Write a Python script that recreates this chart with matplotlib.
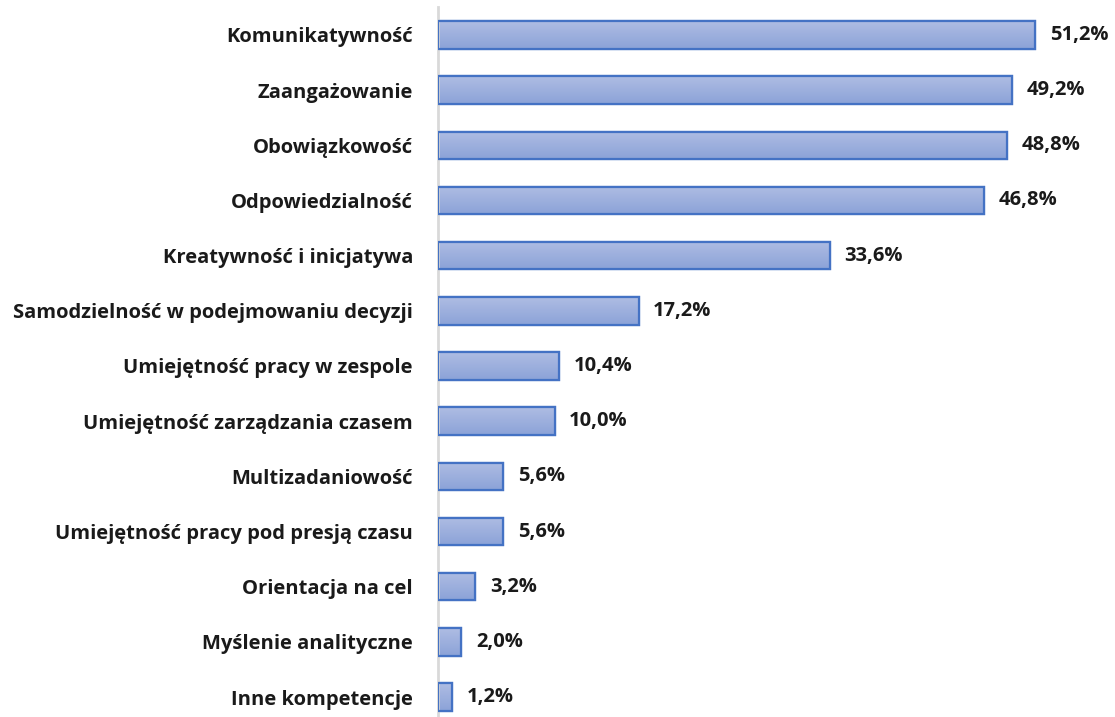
import numpy as np
import matplotlib.pyplot as plt
from matplotlib.colors import LinearSegmentedColormap

categories = [
    "Komunikatywność",
    "Zaangażowanie",
    "Obowiązkowość",
    "Odpowiedzialność",
    "Kreatywność i inicjatywa",
    "Samodzielność w podejmowaniu decyzji",
    "Umiejętność pracy w zespole",
    "Umiejętność zarządzania czasem",
    "Multizadaniowość",
    "Umiejętność pracy pod presją czasu",
    "Orientacja na cel",
    "Myślenie analityczne",
    "Inne kompetencje",
]
values = [51.2, 49.2, 48.8, 46.8, 33.6, 17.2, 10.4, 10.0, 5.6, 5.6, 3.2, 2.0, 1.2]
value_labels = [f"{v:.1f}%".replace(".", ",") for v in values]

plt.rcParams["font.family"] = ["Open Sans", "DejaVu Sans"]

fig = plt.figure(figsize=(11.15, 7.17), dpi=100)
ax = fig.add_axes([0.3928, -0.0106, 1 - 0.3928, 1.0003])

y = np.arange(len(categories))
bars = ax.barh(y, values, height=0.5, color="#9DB0DF", edgecolor="#4472C4", linewidth=1.6, zorder=2)

# vertical gradient fill inside each bar
grad = LinearSegmentedColormap.from_list("g", ["#AEBCE3", "#8CA3D8"])
for b in bars:
    x0, y0 = b.get_x(), b.get_y()
    w, h = b.get_width(), b.get_height()
    im = ax.imshow(np.linspace(0, 1, 50).reshape(-1, 1), cmap=grad, aspect="auto",
                   extent=[x0, x0 + w, y0 + h, y0], origin="upper", zorder=2.5)
    im.set_clip_path(b)
    ax.add_patch(plt.Rectangle((x0, y0), w, h, fill=False, edgecolor="#4472C4", linewidth=1.6, zorder=3))

for yi, v, lab in zip(y, values, value_labels):
    ax.text(v + 1.25, yi, lab, va="center", ha="left", fontsize=14.5, fontweight="bold", color="#1a1a1a")

ax.set_xlim(0, 58.06)
ax.set_ylim(len(categories) - 0.5, -0.5)
ax.set_yticks(y)
ax.set_yticklabels(categories, fontsize=14.5, fontweight="bold", color="#1a1a1a")
ax.tick_params(axis="y", length=0, pad=18)
ax.set_xticks([])
for s in ["top", "right", "bottom"]:
    ax.spines[s].set_visible(False)
ax.spines["left"].set_color("#D9D9D9")
ax.spines["left"].set_linewidth(2)

fig.savefig("out.png", dpi=100)
